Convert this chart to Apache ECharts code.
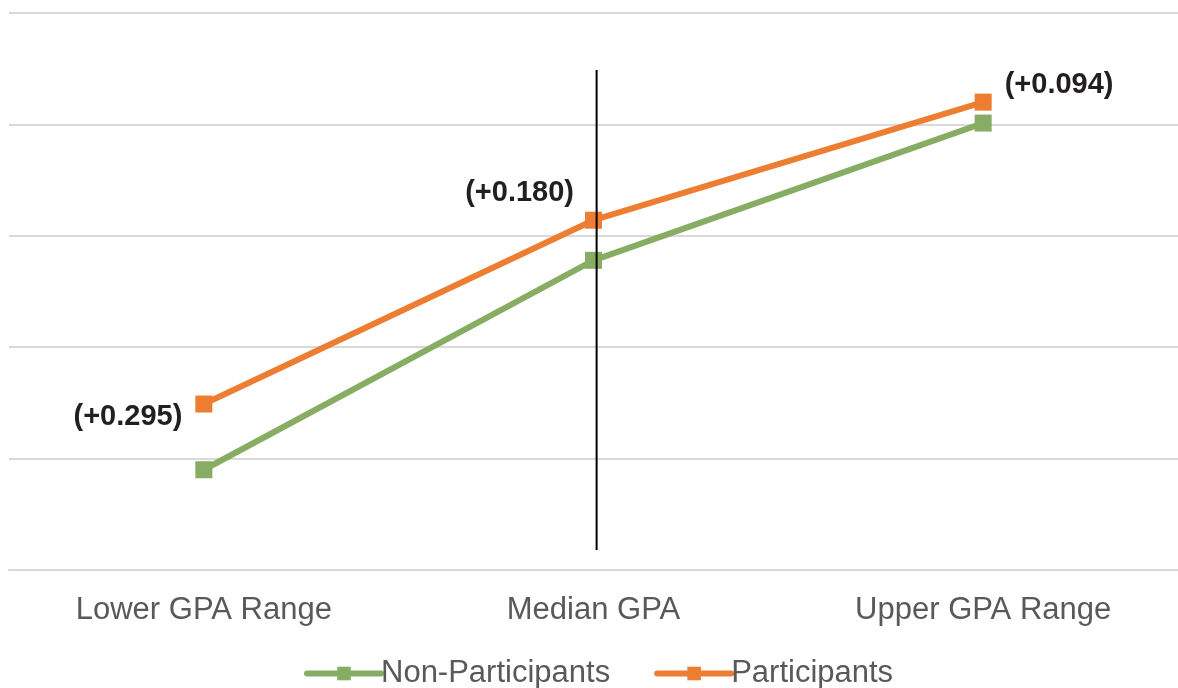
<!DOCTYPE html>
<html>
<head>
<meta charset="utf-8">
<script src="https://cdn.jsdelivr.net/npm/echarts@6/dist/echarts.min.js"></script>
<style>
  html, body { margin: 0; padding: 0; background: #ffffff; }
  #chart { width: 1178px; height: 688px; }
</style>
</head>
<body>
<div id="chart"></div>
<script>
// GPA groups along the x axis
const categories = ['Lower GPA Range', 'Median GPA', 'Upper GPA Range'];
// Average GPA per group
const nonParticipants = [1.95, 2.89, 3.506];
const participants = [2.245, 3.07, 3.60];
// Gain of participants over non-participants
const gainLabels = ['(+0.295)', '(+0.180)', '(+0.094)'];
// Value-axis range and gridline step (axis labels hidden)
const yMin = 1.5, yMax = 4.0, yStep = 0.5;
// Divider drawn at the median, in category-index units and value units
const medianDivider = [[1.008, 3.744], [1.008, 1.59]];

const green = '#86AD63';
const orange = '#ED7D31';
const font = 'Liberation Sans, Arial, sans-serif';

const labelPositions = [
  { position: 'left', offset: [-8, 13] },
  { position: 'left', offset: [-6, -27] },
  { position: 'right', offset: [8, -17] }
];

const chart = echarts.init(document.getElementById('chart'), null, { renderer: 'canvas' });
chart.setOption({
  animation: false,
  backgroundColor: '#ffffff',
  grid: { left: 9, right: 0, top: 13, bottom: 118, containLabel: false },
  legend: {
    top: 653,
    left: 299,
    itemWidth: 74,
    itemHeight: 17,
    itemGap: 44,
    lineStyle: { width: 6, cap: 'round' },
    textStyle: { fontFamily: font, fontSize: 31, color: '#595959', padding: [0, 0, 0, -5] },
    data: ['Non-Participants', 'Participants']
  },
  xAxis: [
    {
      type: 'category',
      data: categories,
      boundaryGap: true,
      axisLine: { show: true, lineStyle: { color: '#d9d9d9', width: 2 } },
      axisTick: { show: false },
      axisLabel: { fontFamily: font, fontSize: 31, color: '#595959', margin: 25 }
    },
    {
      type: 'value',
      min: -0.5,
      max: 2.5,
      show: false
    }
  ],
  yAxis: {
    type: 'value',
    min: yMin,
    max: yMax,
    interval: yStep,
    axisLine: { show: false },
    axisTick: { show: false },
    axisLabel: { show: false },
    splitLine: { lineStyle: { color: '#d9d9d9', width: 2 } }
  },
  series: [
    {
      name: 'Non-Participants',
      type: 'line',
      data: nonParticipants,
      symbol: 'rect',
      symbolSize: 17,
      color: green,
      lineStyle: { width: 6, color: green },
      itemStyle: { color: green },
      z: 3
    },
    {
      name: 'Participants',
      type: 'line',
      data: participants.map((v, i) => ({
        value: v,
        label: Object.assign({
          show: true,
          formatter: gainLabels[i],
          fontFamily: font,
          fontSize: 29,
          fontWeight: 'bold',
          color: '#231F20'
        }, labelPositions[i])
      })),
      symbol: 'rect',
      symbolSize: 17,
      color: orange,
      lineStyle: { width: 6, color: orange },
      itemStyle: { color: orange },
      z: 4
    },
    {
      name: 'divider',
      type: 'line',
      xAxisIndex: 1,
      data: medianDivider,
      symbol: 'none',
      lineStyle: { width: 2, color: '#000000' },
      silent: true,
      z: 5
    }
  ]
});
</script>
</body>
</html>
